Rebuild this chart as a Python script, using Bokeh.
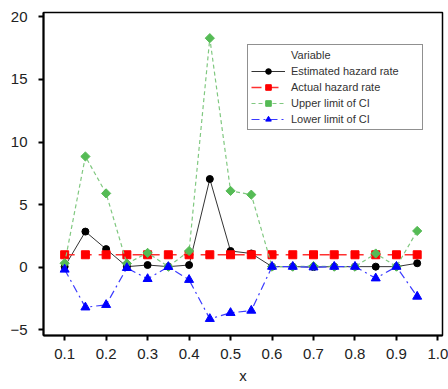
import math
from bokeh.plotting import figure
from bokeh.models import Range1d, FixedTicker, Legend, LegendItem
from bokeh.embed import file_html
from bokeh.resources import INLINE

x = [0.10, 0.15, 0.20, 0.25, 0.30, 0.35, 0.40, 0.45, 0.50,
     0.55, 0.60, 0.65, 0.70, 0.75, 0.80, 0.85, 0.90, 0.95]
estimated = [0.05, 2.85, 1.45, 0.05, 0.18, 0.05, 0.18, 7.05, 1.3,
             1.1, 0.05, 0.05, 0.02, 0.05, 0.05, 0.05, 0.05, 0.32]
actual = [1.0] * 18
upper = [0.32, 8.85, 5.9, 0.3, 1.15, 0.05, 1.3, 18.3, 6.1,
         5.8, 0.05, 0.05, 0.1, 0.05, 0.05, 1.1, 0.05, 2.9]
lower = [-0.18, -3.2, -3.0, -0.05, -0.93, 0.03, -1.0, -4.12, -3.64,
         -3.46, 0.05, 0.05, 0.0, 0.05, 0.05, -0.88, 0.05, -2.34]
x_ticks = [0.1, 0.2, 0.3, 0.4, 0.5, 0.6, 0.7, 0.8, 0.9, 1.0]
x_tick_labels = ["0.1", "0.2", "0.3", "0.4", "0.5", "0.6", "0.7", "0.8", "0.9", "1.0"]
y_ticks = [-5, 0, 5, 10, 15, 20]
names = ["Estimated hazard rate", "Actual hazard rate", "Upper limit of CI", "Lower limit of CI"]
legend_title = "Variable"

FONT = "Liberation Sans"

p = figure(width=448, height=389, output_backend="svg", toolbar_location=None,
           x_range=Range1d(0.049, 1.011), y_range=Range1d(-5.45, 20.35),
           min_border_left=43, min_border_right=6, min_border_top=12, min_border_bottom=54)
p.xgrid.visible = False
p.ygrid.visible = False
p.outline_line_color = "black"
p.outline_line_width = 1.5
p.background_fill_color = "white"
p.border_fill_color = "white"

for ax in (p.xaxis[0], p.yaxis[0]):
    ax.axis_line_width = 2
    ax.axis_line_color = "black"
    ax.major_tick_line_width = 2
    ax.major_tick_line_color = "black"
    ax.major_tick_out = 5
    ax.major_tick_in = 0
    ax.minor_tick_line_color = None
    ax.major_label_text_font = FONT
    ax.major_label_text_font_size = "15px"
    ax.major_label_text_color = "#222222"

p.xaxis[0].ticker = FixedTicker(ticks=x_ticks)
p.xaxis[0].major_label_overrides = {t: l for t, l in zip(x_ticks, x_tick_labels)}
p.xaxis[0].major_label_standoff = 8
p.xaxis[0].axis_label = "x"
p.xaxis[0].axis_label_text_font = FONT
p.xaxis[0].axis_label_text_font_size = "15px"
p.xaxis[0].axis_label_text_font_style = "normal"
p.xaxis[0].axis_label_text_color = "#222222"
p.xaxis[0].axis_label_standoff = 5
p.yaxis[0].ticker = FixedTicker(ticks=y_ticks)
p.yaxis[0].major_label_standoff = 11

# invisible renderer used only to show the legend heading in the label column
r_title = p.line([], [], line_alpha=0)

r_est_l = p.line(x, estimated, line_color="#333333", line_width=1)
r_est_m = p.scatter(x, estimated, marker="circle", size=7, fill_color="black", line_color="black")

r_act_l = p.line(x, actual, line_color="#ff3030", line_width=1.5, line_dash="10 7")
r_act_m = p.scatter(x, actual, marker="square", size=8, fill_color="#ff0000", line_color="#ff0000")

r_up_l = p.line(x, upper, line_color="#80c880", line_width=1.2, line_dash="4 3")
r_up_m = p.scatter(x, upper, marker="square", size=6.5, angle=math.pi / 4,
                   fill_color="#55bb55", line_color="#55bb55")

r_lo_l = p.line(x, lower, line_color="#3a3aff", line_width=1.2, line_dash="8 4 2 4")
r_lo_m = p.scatter(x, lower, marker="triangle", size=9, fill_color="#0000ff", line_color="#0000ff")

legend = Legend(items=[
    LegendItem(label=legend_title, renderers=[r_title]),
    LegendItem(label=names[0], renderers=[r_est_l, r_est_m]),
    LegendItem(label=names[1], renderers=[r_act_l, r_act_m]),
    LegendItem(label=names[2], renderers=[r_up_l, r_up_m]),
    LegendItem(label=names[3], renderers=[r_lo_l, r_lo_m]),
], location=(204, 205))
legend.margin = 0
legend.padding = 3
legend.spacing = 2
legend.glyph_width = 34
legend.glyph_height = 14
legend.label_height = 14
legend.label_width = 128
legend.label_standoff = 6
legend.label_text_font = FONT
legend.label_text_font_size = "11px"
legend.label_text_color = "#333333"
legend.border_line_color = "#222222"
legend.border_line_width = 1
legend.background_fill_color = "white"
legend.background_fill_alpha = 1
legend.click_policy = "none"
p.add_layout(legend, "center")

open("out.html", "w").write(file_html(p, INLINE))
